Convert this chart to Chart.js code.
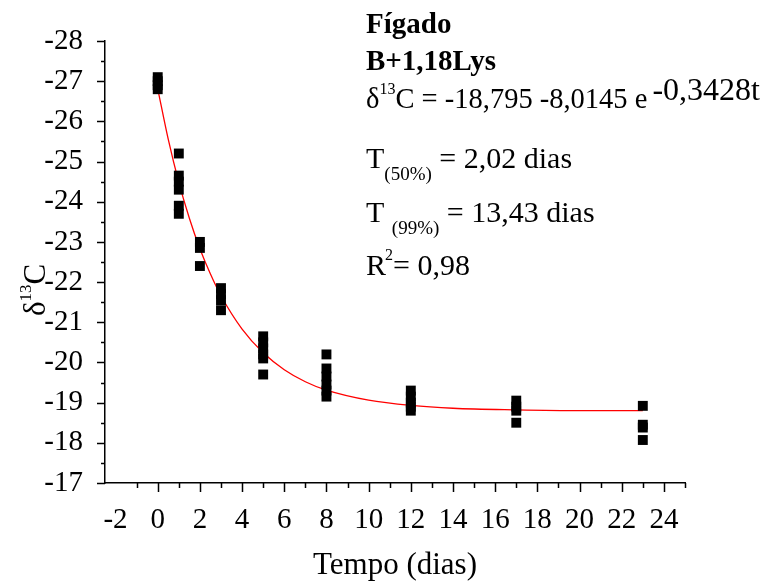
<!DOCTYPE html>
<html>
<head>
<meta charset="utf-8">
<script src="https://cdn.jsdelivr.net/npm/chart.js@4.4.0/dist/chart.umd.min.js"></script>
<style>
  html, body { margin: 0; padding: 0; background: #fff; }
  #wrap { width: 773px; height: 586px; }
</style>
</head>
<body>
<div id="wrap"><canvas id="chart" width="773" height="586"></canvas></div>
<script>
// sampling days and the d13C values measured on each day
const sampleDays = [0, 1, 2, 3, 5, 8, 12, 17, 23];
const delta13C = [
  [-27.1, -27.0, -26.9, -26.8],
  [-25.2, -24.65, -24.5, -24.3, -23.9, -23.7],
  [-23.0, -22.85, -22.4],
  [-21.85, -21.7, -21.55, -21.3],
  [-20.65, -20.5, -20.35, -20.2, -20.1, -19.7],
  [-20.2, -19.85, -19.65, -19.45, -19.3, -19.15],
  [-19.3, -19.15, -19.0, -18.9, -18.8],
  [-19.05, -18.9, -18.8, -18.5],
  [-18.92, -18.45, -18.38, -18.07]
];

// red fit curve
const fitDays = [0, 0.5, 1, 1.5, 2, 2.5, 3, 4, 5, 6, 7, 8, 10, 12, 14, 17, 20, 23];
const fitValues = [-26.81, -25.55, -24.48, -23.59, -22.83, -22.20, -21.66, -20.83, -20.24,
  -19.82, -19.52, -19.31, -19.06, -18.93, -18.86, -18.82, -18.80, -18.80];

const xTickLabels = [-2, 0, 2, 4, 6, 8, 10, 12, 14, 16, 18, 20, 22, 24];
const yTickLabels = [-28, -27, -26, -25, -24, -23, -22, -21, -20, -19, -18, -17];

const serif = "'Liberation Serif', 'Times New Roman', serif";

const points = [];
sampleDays.forEach((d, i) => {
  delta13C[i].forEach(v => points.push({ x: d, y: v }));
});
const fitPoints = fitDays.map((d, i) => ({ x: d, y: fitValues[i] }));

// draws a list of text pieces one after another on one baseline
function drawRuns(ctx, x, y, runs) {
  let cx = x;
  runs.forEach(r => {
    ctx.font = r.font;
    ctx.fillText(r.text, cx + (r.dx || 0), y + (r.dy || 0));
    cx += ctx.measureText(r.text).width + (r.dx || 0);
  });
}

const decorations = {
  id: 'decorations',
  afterDraw(chart) {
    const ctx = chart.ctx;
    const xs = chart.scales.x;
    const ys = chart.scales.y;
    ctx.save();

    // tick marks, major and minor, pointing out
    ctx.strokeStyle = '#000';
    ctx.lineWidth = 1.5;
    ctx.beginPath();
    for (let v = -1; v <= 25; v++) {
      const px = Math.round(xs.getPixelForValue(v)) + 0.5;
      const len = v % 2 === 0 ? 9 : 5;
      ctx.moveTo(px, ys.bottom);
      ctx.lineTo(px, ys.bottom + len);
    }
    for (let v = -28; v <= -17; v += 0.5) {
      const py = Math.round(ys.getPixelForValue(v)) + 0.5;
      const len = Number.isInteger(v) ? 8 : 4;
      ctx.moveTo(xs.left, py);
      ctx.lineTo(xs.left - len, py);
    }
    ctx.stroke();

    ctx.fillStyle = '#000';
    ctx.textBaseline = 'alphabetic';
    ctx.textAlign = 'left';

    const eq = '28.5px ' + serif;
    const big = '30px ' + serif;
    const bold = 'bold 29px ' + serif;
    const small = '16px ' + serif;
    const sub = '19px ' + serif;

    // x axis title
    ctx.font = '31px ' + serif;
    ctx.textAlign = 'center';
    ctx.fillText('Tempo (dias)', 395, 574);
    ctx.textAlign = 'left';

    // y axis title, rotated
    ctx.save();
    ctx.translate(45, 316);
    ctx.rotate(-Math.PI / 2);
    drawRuns(ctx, 0, 0, [
      { text: 'δ', font: '31px ' + serif },
      { text: '13', font: '17px ' + serif, dy: -14 },
      { text: 'C', font: '31px ' + serif }
    ]);
    ctx.restore();

    // annotation block
    const ax = 366;
    drawRuns(ctx, ax, 33, [{ text: 'Fígado', font: bold }]);
    drawRuns(ctx, ax, 70, [{ text: 'B+1,18Lys', font: bold }]);
    drawRuns(ctx, ax, 108, [
      { text: 'δ', font: eq },
      { text: '13', font: small, dy: -14 },
      { text: 'C = -18,795 -8,0145 e', font: eq },
      { text: '-0,3428t', font: '32px ' + serif, dy: -8, dx: 5 }
    ]);
    drawRuns(ctx, ax, 168, [
      { text: 'T', font: big },
      { text: '(50%)', font: sub, dy: 12 },
      { text: ' = 2,02 dias', font: big }
    ]);
    drawRuns(ctx, ax, 222, [
      { text: 'T ', font: big },
      { text: '(99%)', font: sub, dy: 12 },
      { text: ' = 13,43 dias', font: big }
    ]);
    drawRuns(ctx, ax, 275, [
      { text: 'R', font: big },
      { text: '2', font: small, dy: -15, dx: -1 },
      { text: '= 0,98', font: big }
    ]);

    ctx.restore();
  }
};

new Chart(document.getElementById('chart').getContext('2d'), {
  data: {
    datasets: [{
      type: 'line',
      label: 'Ajuste',
      data: fitPoints,
      borderColor: 'rgb(255, 0, 0)',
      borderWidth: 1.3,
      pointRadius: 0,
      fill: false,
      cubicInterpolationMode: 'monotone',
      order: 2
    }, {
      type: 'scatter',
      label: 'δ13C',
      data: points,
      pointStyle: 'rect',
      radius: 7,
      backgroundColor: '#000',
      borderColor: '#000',
      borderWidth: 0,
      order: 1
    }]
  },
  options: {
    responsive: false,
    animation: false,
    layout: { padding: { left: 0, top: 41, right: 88, bottom: 0 } },
    plugins: {
      legend: { display: false },
      tooltip: { enabled: false }
    },
    scales: {
      x: {
        type: 'linear',
        min: -2.5,
        max: 25,
        grid: { display: false },
        border: { display: true, color: '#000', width: 1.5 },
        afterBuildTicks: scale => { scale.ticks = xTickLabels.map(v => ({ value: v })); },
        afterFit: scale => { scale.height = 103; },
        ticks: {
          color: '#000',
          font: { family: serif, size: 29 },
          padding: 12,
          autoSkip: false,
          maxRotation: 0,
          callback: v => String(v)
        }
      },
      y: {
        type: 'linear',
        min: -28,
        max: -17,
        reverse: true,
        grid: { display: false },
        border: { display: true, color: '#000', width: 1.5 },
        afterBuildTicks: scale => { scale.ticks = yTickLabels.map(v => ({ value: v })); },
        afterFit: scale => { scale.width = 105; },
        ticks: {
          color: '#000',
          font: { family: serif, size: 29 },
          padding: 14,
          autoSkip: false,
          callback: v => String(v)
        }
      }
    }
  },
  plugins: [decorations]
});
</script>
</body>
</html>
